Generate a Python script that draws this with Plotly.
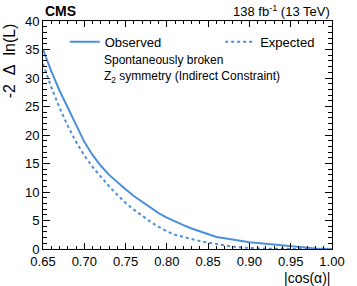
import plotly.graph_objects as go

cos_alpha = [0.65, 0.66, 0.67, 0.68, 0.69, 0.70, 0.71, 0.72, 0.73, 0.74,
             0.75, 0.76, 0.77, 0.78, 0.79, 0.80, 0.81, 0.82, 0.83, 0.84,
             0.85, 0.86, 0.87, 0.88, 0.89, 0.90, 0.91, 0.92, 0.93, 0.94,
             0.95, 0.96, 0.97, 0.98, 0.99, 1.00]
observed = [35.0, 31.2, 27.8, 24.8, 21.9, 18.8, 16.5, 14.6, 13.0, 11.7,
            10.5, 9.3, 8.3, 7.3, 6.3, 5.5, 4.8, 4.2, 3.6, 3.1,
            2.6, 2.1, 1.9, 1.65, 1.4, 1.2, 1.05, 0.9, 0.75, 0.6,
            0.45, 0.32, 0.2, 0.1, 0.04, 0.0]
expected = [32.5, 28.4, 24.8, 21.6, 18.8, 16.4, 14.4, 12.6, 11.0, 9.5,
            8.1, 6.9, 5.8, 4.8, 3.9, 3.1, 2.5, 2.1, 1.75, 1.4,
            1.1, 0.85, 0.62, 0.42, 0.27, 0.16, 0.09, 0.05, 0.03, 0.02,
            0.01, 0.0, 0.0, 0.0, 0.0, 0.0]
x_ticks = [0.65, 0.70, 0.75, 0.80, 0.85, 0.90, 0.95, 1.00]
y_ticks = [0, 5, 10, 15, 20, 25, 30, 35, 40]

FONT = "Liberation Sans"
BLUE = "#4a8fdc"
NB = "\u00a0"

fig = go.Figure()
fig.add_trace(go.Scatter(x=cos_alpha, y=observed, mode="lines", name="Observed",
                         line=dict(color=BLUE, width=2), legend="legend", showlegend=True))
fig.add_trace(go.Scatter(x=cos_alpha, y=expected, mode="lines", name="Expected",
                         line=dict(color=BLUE, width=2, dash="dot"), legend="legend2",
                         showlegend=True))

axis_common = dict(showline=True, linecolor="black", linewidth=1, mirror="allticks",
                   ticks="inside", tickcolor="black", tickwidth=1,
                   showgrid=False, zeroline=False,
                   tickfont=dict(family=FONT, size=13, color="black"))

fig.update_xaxes(range=[0.65, 1.0], tickvals=x_ticks, ticklen=6,
                 ticktext=[f"{v:.2f}" for v in x_ticks],
                 minor=dict(ticks="inside", ticklen=3, dtick=0.01, tickcolor="black", showgrid=False),
                 **axis_common)
fig.update_yaxes(range=[0, 40], tickvals=y_ticks, ticklen=7,
                 minor=dict(ticks="inside", ticklen=4, dtick=1, tickcolor="black", showgrid=False),
                 **axis_common)

fig.update_layout(
    width=357, height=286,
    margin=dict(l=43, r=22, t=21, b=37),
    paper_bgcolor="white", plot_bgcolor="white",
    showlegend=True,
    font=dict(family=FONT, size=12, color="black"),
    legend=dict(x=0.0753, y=0.975, xanchor="left", yanchor="top", bgcolor="rgba(0,0,0,0)",
                font=dict(family=FONT, size=13)),
    legend2=dict(x=0.613, y=0.975, xanchor="left", yanchor="top", bgcolor="rgba(0,0,0,0)",
                 font=dict(family=FONT, size=13)),
    annotations=[
        dict(text="<b>CMS</b>", x=0, y=1, xref="paper", yref="paper",
             xanchor="left", yanchor="bottom", showarrow=False,
             font=dict(family=FONT, size=14)),
        dict(text="138 fb<sup>-1</sup> (13 TeV)", x=1, y=1, xref="paper", yref="paper",
             xanchor="right", yanchor="bottom", showarrow=False,
             font=dict(family=FONT, size=13)),
        dict(text="Spontaneously broken", x=0.205, y=0.829, xref="paper", yref="paper",
             xanchor="left", yanchor="middle", showarrow=False, align="left",
             font=dict(family=FONT, size=12)),
        dict(text="Z<sub>2</sub> symmetry (Indirect Constraint)", x=0.205, y=0.754,
             xref="paper", yref="paper", xanchor="left", yanchor="middle",
             showarrow=False, align="left", font=dict(family=FONT, size=12)),
        dict(text=f"-2{NB}{NB}\u0394{NB}{NB}ln(L)", x=-0.115, y=1.0, xref="paper", yref="paper",
             xanchor="center", yanchor="top", textangle=-90, showarrow=False,
             font=dict(family=FONT, size=16)),
        dict(text="|cos(\u03b1)|", x=1, y=-0.125, xref="paper", yref="paper",
             xanchor="right", yanchor="middle", showarrow=False,
             font=dict(family=FONT, size=14)),
    ],
)

fig.write_html("out.html", post_script="document.body.style.margin='0';",
               config={"displayModeBar": False})
